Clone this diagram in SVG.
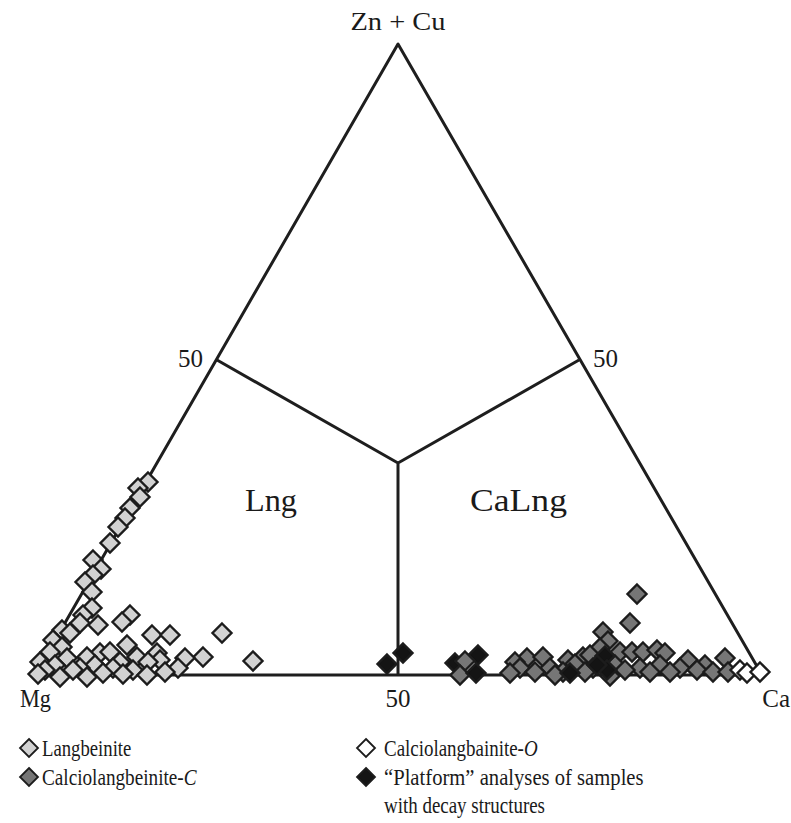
<svg xmlns="http://www.w3.org/2000/svg" xmlns:xlink="http://www.w3.org/1999/xlink" width="791" height="823" viewBox="0 0 791 823">
<style>
.t{font-family:"Liberation Serif","DejaVu Serif","Times New Roman",serif;fill:#1a1a1a}
.lab{font-size:25px}
.reg{font-size:31px}
.leg{font-size:24px}
.it{font-style:italic}
.ln{fill:none;stroke:#1e1e1e;stroke-width:3;stroke-linejoin:round}
use{stroke:#1c1c1c;stroke-width:2.4}
.L{fill:#d2d2d2}.C{fill:#767676}.O{fill:#ffffff}.P{fill:#141414}
.lg{stroke-width:1.8}
</style>
<defs>
<path id="d" d="M0,-9.5 L9.5,0 L0,9.5 L-9.5,0Z"/>
<path id="s" d="M0,-9 L9,0 L0,9 L-9,0Z"/>
</defs>
<g id="connectors">
<path class="ln" d="M398,44 L35,675 L762,675 Z"/>
<path class="ln" d="M217,360 L398,463 L579,360 M398,463 L398,675"/>
</g>
<g id="labels" class="t" font-family="Liberation Serif, DejaVu Serif, serif">
<text class="lab" x="398" y="30" text-anchor="middle" textLength="95" lengthAdjust="spacingAndGlyphs">Zn + Cu</text>
<text class="lab" x="203" y="367" text-anchor="end">50</text>
<text class="lab" x="593" y="367">50</text>
<text class="lab" x="20" y="707" textLength="31" lengthAdjust="spacingAndGlyphs">Mg</text>
<text class="lab" x="398" y="707" text-anchor="middle">50</text>
<text class="lab" x="790" y="707" text-anchor="end">Ca</text>
<text class="reg" x="245" y="511" textLength="52" lengthAdjust="spacingAndGlyphs">Lng</text>
<text class="reg" x="470" y="511" textLength="97" lengthAdjust="spacingAndGlyphs">CaLng</text>
</g>
<g id="langbeinite">
<use href="#d" class="L" x="148" y="482"/><use href="#d" class="L" x="138" y="488"/><use href="#d" class="L" x="140" y="497"/>
<use href="#d" class="L" x="130" y="508"/><use href="#d" class="L" x="125" y="518"/><use href="#d" class="L" x="118" y="527"/>
<use href="#d" class="L" x="110" y="543"/><use href="#d" class="L" x="93" y="560"/><use href="#d" class="L" x="101" y="569"/>
<use href="#d" class="L" x="93" y="575"/><use href="#d" class="L" x="85" y="582"/><use href="#d" class="L" x="92" y="592"/>
<use href="#d" class="L" x="92" y="608"/><use href="#d" class="L" x="83" y="615"/><use href="#d" class="L" x="80" y="623"/>
<use href="#d" class="L" x="98" y="625"/><use href="#d" class="L" x="130" y="615"/><use href="#d" class="L" x="122" y="622"/>
<use href="#d" class="L" x="152" y="635"/><use href="#d" class="L" x="170" y="635"/><use href="#d" class="L" x="222" y="633"/>
<use href="#d" class="L" x="253" y="661"/><use href="#d" class="L" x="62" y="630"/><use href="#d" class="L" x="70" y="633"/>
<use href="#d" class="L" x="53" y="640"/><use href="#d" class="L" x="62" y="647"/><use href="#d" class="L" x="50" y="652"/>
<use href="#d" class="L" x="127" y="645"/><use href="#d" class="L" x="100" y="653"/><use href="#d" class="L" x="110" y="652"/>
<use href="#d" class="L" x="157" y="653"/><use href="#d" class="L" x="67" y="658"/><use href="#d" class="L" x="87" y="657"/>
<use href="#d" class="L" x="137" y="657"/><use href="#d" class="L" x="203" y="657"/><use href="#d" class="L" x="185" y="658"/>
<use href="#d" class="L" x="160" y="660"/><use href="#d" class="L" x="120" y="662"/><use href="#d" class="L" x="148" y="662"/>
<use href="#d" class="L" x="40" y="662"/><use href="#d" class="L" x="55" y="665"/><use href="#d" class="L" x="95" y="665"/>
<use href="#d" class="L" x="80" y="668"/><use href="#d" class="L" x="113" y="668"/><use href="#d" class="L" x="178" y="668"/>
<use href="#d" class="L" x="45" y="670"/><use href="#d" class="L" x="73" y="670"/><use href="#d" class="L" x="133" y="670"/>
<use href="#d" class="L" x="165" y="672"/><use href="#d" class="L" x="103" y="673"/><use href="#d" class="L" x="123" y="674"/>
<use href="#d" class="L" x="147" y="675"/><use href="#d" class="L" x="38" y="674"/><use href="#d" class="L" x="60" y="677"/>
<use href="#d" class="L" x="87" y="677"/>
</g>
<g id="calciolangbeinite-c">
<use href="#d" class="C" x="637" y="594"/><use href="#d" class="C" x="630" y="623"/><use href="#d" class="C" x="603" y="632"/>
<use href="#d" class="C" x="608" y="641"/><use href="#d" class="C" x="600" y="648"/><use href="#d" class="C" x="620" y="652"/>
<use href="#d" class="C" x="632" y="652"/><use href="#d" class="C" x="643" y="652"/><use href="#d" class="C" x="657" y="650"/>
<use href="#d" class="C" x="665" y="653"/><use href="#d" class="C" x="725" y="658"/><use href="#d" class="C" x="527" y="658"/>
<use href="#d" class="C" x="543" y="657"/><use href="#d" class="C" x="583" y="657"/><use href="#d" class="C" x="590" y="655"/>
<use href="#d" class="C" x="515" y="662"/><use href="#d" class="C" x="568" y="660"/><use href="#d" class="C" x="575" y="664"/>
<use href="#d" class="C" x="688" y="660"/><use href="#d" class="C" x="705" y="665"/><use href="#d" class="C" x="660" y="665"/>
<use href="#d" class="C" x="615" y="665"/><use href="#d" class="C" x="550" y="668"/><use href="#d" class="C" x="520" y="668"/>
<use href="#d" class="C" x="593" y="668"/><use href="#d" class="C" x="640" y="668"/><use href="#d" class="C" x="680" y="668"/>
<use href="#d" class="C" x="625" y="670"/><use href="#d" class="C" x="697" y="670"/><use href="#d" class="C" x="535" y="672"/>
<use href="#d" class="C" x="563" y="672"/><use href="#d" class="C" x="585" y="672"/><use href="#d" class="C" x="650" y="672"/>
<use href="#d" class="C" x="670" y="672"/><use href="#d" class="C" x="713" y="672"/><use href="#d" class="C" x="728" y="672"/>
<use href="#d" class="C" x="510" y="673"/><use href="#d" class="C" x="555" y="675"/><use href="#d" class="C" x="610" y="676"/>
</g>
<g id="calciolangbainite-o">
<use href="#d" class="O" x="740" y="670"/><use href="#d" class="O" x="747" y="673"/><use href="#d" class="O" x="760" y="672"/>
</g>
<g id="platform">
<use href="#d" class="P" x="387" y="664"/><use href="#d" class="P" x="403" y="653"/>
<use href="#d" class="P" x="455" y="663"/><use href="#d" class="P" x="478" y="655"/>
<use href="#d" class="C" x="465" y="661"/><use href="#d" class="C" x="460" y="675"/>
<use href="#d" class="P" x="476" y="673"/>
<use href="#d" class="P" x="570" y="673"/><use href="#d" class="P" x="605" y="656"/><use href="#d" class="P" x="607" y="670"/>
<use href="#d" class="P" x="597" y="665"/>
</g>
<g id="legend" class="t" font-family="Liberation Serif, DejaVu Serif, serif">
<use href="#s" class="L lg" x="29" y="748"/>
<text class="leg" transform="translate(42,756) scale(0.78,1)">Langbeinite</text>
<use href="#s" class="C lg" x="29" y="777"/>
<text class="leg" transform="translate(42,785) scale(0.8,1)">Calciolangbeinite-<tspan class="it">C</tspan></text>
<use href="#s" class="O lg" x="366" y="748"/>
<text class="leg" transform="translate(384,756) scale(0.79,1)">Calciolangbainite-<tspan class="it">O</tspan></text>
<use href="#s" class="P lg" x="366" y="777"/>
<text class="leg" transform="translate(384,785) scale(0.86,1)">“Platform” analyses of samples</text>
<text class="leg" transform="translate(384,813) scale(0.79,1)">with decay structures</text>
</g>
</svg>
